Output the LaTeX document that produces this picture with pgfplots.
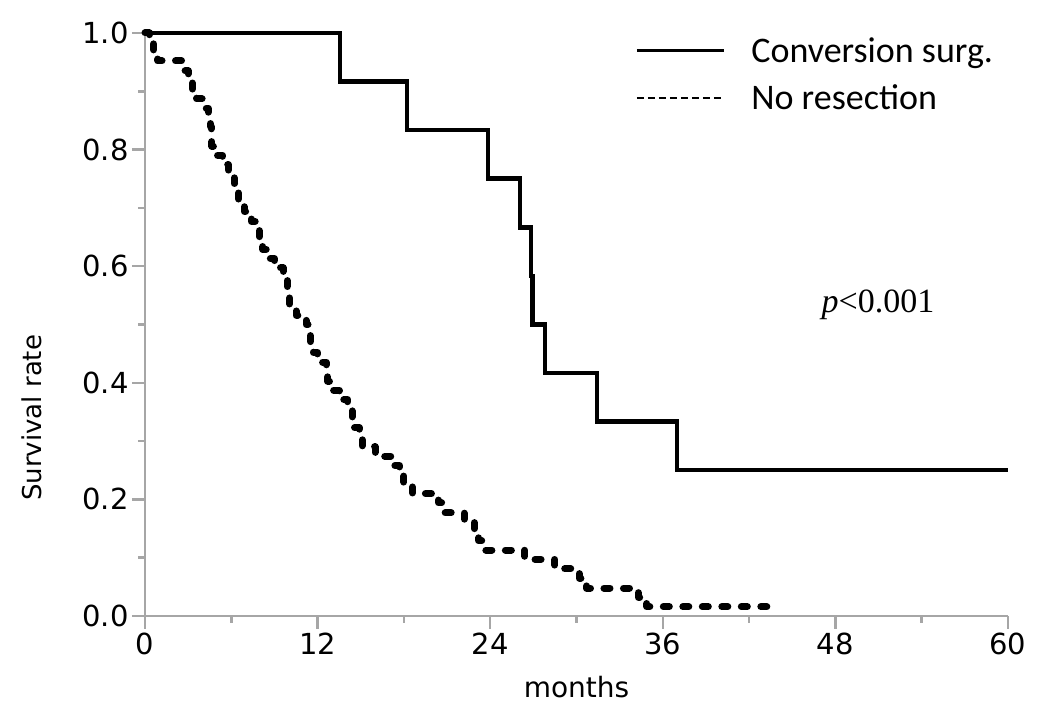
\documentclass[border=0pt]{standalone}
\usepackage{fontspec}
\usepackage{pgfplots}
\pgfplotsset{compat=1.18}
\setmainfont{Carlito}
\newfontfamily\tickfont{DejaVu Sans}
\newfontfamily\pfont{Liberation Serif}
\definecolor{axgray}{HTML}{A6A6A6}

% Kaplan-Meier steps: time of drop, survival after the drop
\pgfplotstableread{
t s
0 1.0
13.56 0.9167
18.22 0.8333
23.85 0.75
26.08 0.6667
26.85 0.5833
26.95 0.5
27.82 0.4167
31.43 0.3333
37.0 0.25
60 0.25
}\conversion

\pgfplotstableread{
t s
0 1.0
0.3 0.984
0.6 0.968
0.9 0.952
2.7 0.935
3.0 0.919
3.3 0.903
3.6 0.887
4.0 0.871
4.4 0.855
4.55 0.839
4.6 0.823
4.65 0.806
5.0 0.790
5.4 0.774
5.8 0.758
6.2 0.742
6.35 0.726
6.5 0.710
6.9 0.694
7.4 0.677
7.7 0.661
7.95 0.645
8.2 0.629
8.5 0.613
9.0 0.597
9.6 0.581
9.9 0.565
9.98 0.548
10.05 0.532
10.5 0.516
11.2 0.500
11.4 0.484
11.5 0.468
11.7 0.452
12.0 0.435
12.6 0.419
12.7 0.403
13.1 0.387
13.5 0.371
14.1 0.355
14.4 0.339
14.6 0.323
14.9 0.306
15.1 0.290
16.0 0.274
17.2 0.258
17.7 0.242
18.0 0.226
18.6 0.210
20.4 0.194
20.8 0.177
22.2 0.161
22.9 0.145
23.2 0.129
23.5 0.113
26.4 0.097
28.5 0.081
30.2 0.065
30.7 0.048
34.3 0.032
34.9 0.016
43.5 0.016
}\noresection

\begin{document}
\begin{tikzpicture}
\path[use as bounding box] (0pt,0pt) rectangle (1039pt,706pt);
\begin{axis}[
    at={(145pt,90pt)}, anchor=south west,
    scale only axis,
    width=863pt, height=583pt,
    xmin=0, xmax=60, ymin=0, ymax=1,
    clip=false,
    axis x line*=bottom, axis y line*=left,
    axis line style={-, draw=axgray, line width=2.5pt},
    every tick/.style={axgray, line width=2.5pt},
    tick align=outside,
    major tick length=13pt, minor tick length=7pt,
    xtick={0,12,24,36,48,60}, minor x tick num=1,
    ytick={0,0.2,0.4,0.6,0.8,1.0}, minor y tick num=1,
    /pgf/number format/assume math mode=true,
    yticklabel style={/pgf/number format/fixed, /pgf/number format/fixed zerofill, /pgf/number format/precision=1},
    tick label style={font=\tickfont\fontsize{29}{29}\selectfont, black},
    xlabel={months}, ylabel={Survival rate},
    every axis x label/.style={at={(axis description cs:0.5,0)}, anchor=center, yshift=-71pt, font=\tickfont\fontsize{28}{28}\selectfont},
    every axis y label/.style={at={(axis description cs:0,0.34)}, anchor=center, rotate=90, yshift=113pt, font=\tickfont\fontsize{26}{26}\selectfont},
    legend image code/.code={\draw[#1] (0pt,0pt) -- (87pt,0pt); \path (111pt,0pt);},
    legend cell align=left,
    legend style={at={(axis description cs:0.568,0.996)}, anchor=north west, draw=none, fill=none,
        font=\fontsize{36}{36}\selectfont, row sep=17pt, inner sep=0pt},
]
\addlegendimage{black, line width=3pt}
\addlegendimage{black, line width=2.5pt, dash pattern=on 7pt off 4pt}
\addplot[black, line width=4.5pt, const plot, forget plot] table[x=t, y=s] {\conversion};
\addplot[black, line width=7pt, const plot, line cap=round, line join=round,
    dash pattern=on 6pt off 13.5pt, forget plot] table[x=t, y=s] {\noresection};
\legend{Conversion surg., No resection}
\node[anchor=base west, font=\pfont\fontsize{34}{34}\selectfont] at (axis cs:46.8,0.52) {\textit{p}<0.001};
\end{axis}
\end{tikzpicture}
\end{document}
